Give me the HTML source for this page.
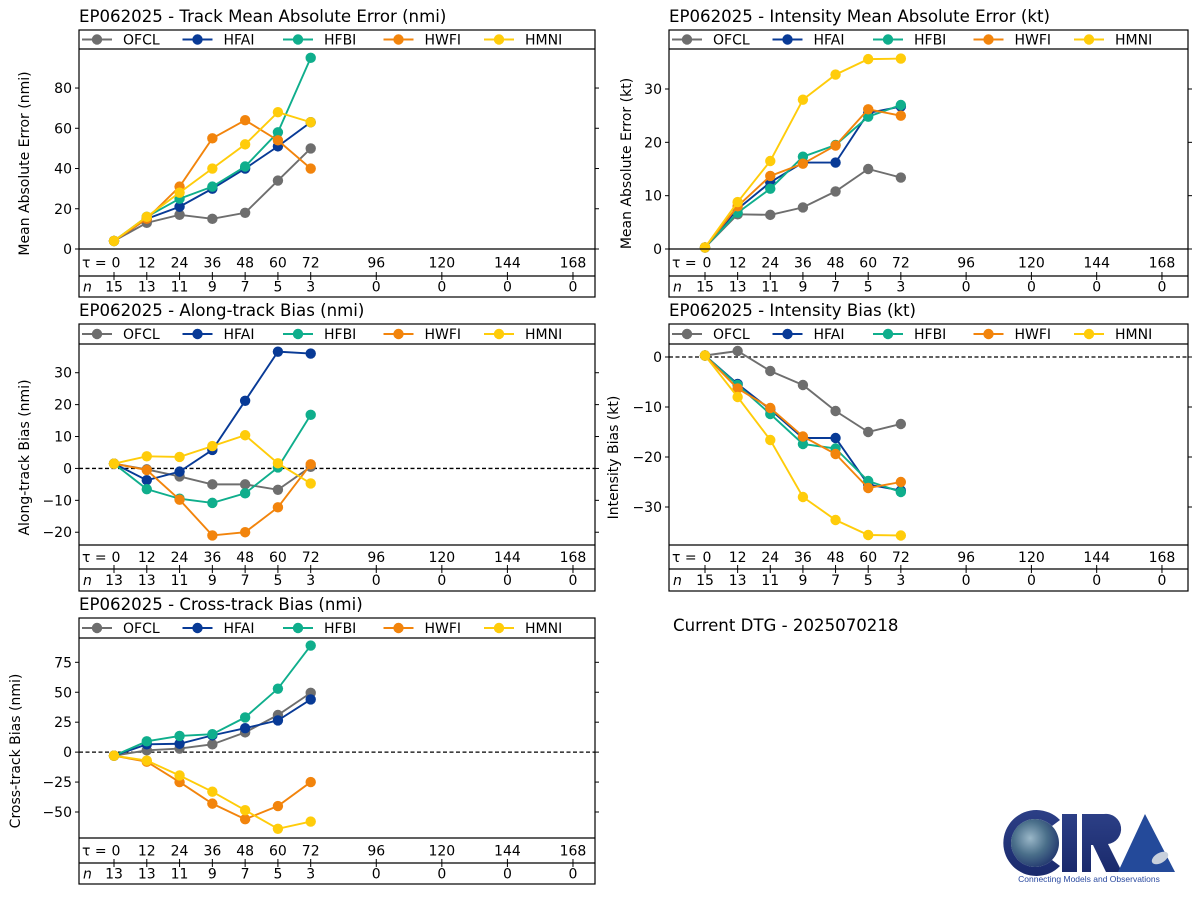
<!DOCTYPE html>
<html><head><meta charset="utf-8"><style>
html,body{margin:0;padding:0;background:#fff;}
svg{display:block;font-family:"DejaVu Sans","Liberation Sans",sans-serif;}
</style></head><body>
<svg id="chart" width="1200" height="900" viewBox="0 0 1200 900" xmlns="http://www.w3.org/2000/svg">
<rect x="0" y="0" width="1200" height="900" fill="#fff"/>
<text x="673" y="631" font-size="16.6" fill="#000">Current DTG - 2025070218</text>
<g>
  <defs>
    <radialGradient id="globe" cx="0.4" cy="0.4" r="0.7">
      <stop offset="0" stop-color="#9ab7c8"/><stop offset="0.5" stop-color="#4a6f8a"/><stop offset="1" stop-color="#1c2f6a"/>
    </radialGradient>
    <linearGradient id="letters" x1="0" y1="0" x2="0" y2="1">
      <stop offset="0" stop-color="#2c3f86"/><stop offset="1" stop-color="#1a2a6c"/>
    </linearGradient>
  </defs>
  <path d="M1060 820 A33 33 0 1 0 1060 866 L1052 860 A24 24 0 1 1 1052 826 Z" fill="url(#letters)"/>
  <circle cx="1035" cy="843" r="24" fill="url(#globe)"/>
  <rect x="1062" y="814" width="15" height="58" fill="url(#letters)"/>
  <path d="M1082 814 h22 a15 15 0 0 1 4 30 l14 28 h-16 l-13 -27 h-2 v27 h-9 Z" fill="url(#letters)"/>
  <path d="M1118 872 L1145 814 L1175 872 Z" fill="#244a9a"/>
  <ellipse cx="1160" cy="858" rx="9" ry="5" fill="#c8d0dc" transform="rotate(-30 1160 858)"/>
  <text x="1089" y="882" font-size="8.5" fill="#2a4aa0" text-anchor="middle" font-family="Liberation Sans, sans-serif">Connecting Models and Observations</text>
</g>
</svg>
<script>
const taus = [0, 12, 24, 36, 48, 60, 72];
const tauTicks = [0, 12, 24, 36, 48, 60, 72, 96, 120, 144, 168];
const models = ["OFCL", "HFAI", "HFBI", "HWFI", "HMNI"];
const colors = ["#6e6e6e", "#083a96", "#0fae8c", "#f2840c", "#ffcc0a"];

const trackN = [15, 13, 11, 9, 7, 5, 3, 0, 0, 0, 0];
const trackOFCL = [4, 13, 17, 15, 18, 34, 50];
const trackHFAI = [4, 15, 21, 30, 40, 51, 63];
const trackHFBI = [4, 16, 25, 31, 41, 58, 95];
const trackHWFI = [4, 15, 31, 55, 64, 54, 40];
const trackHMNI = [4, 16, 28, 40, 52, 68, 63];
const trackTicks = [0, 20, 40, 60, 80];

const intN = [15, 13, 11, 9, 7, 5, 3, 0, 0, 0, 0];
const intOFCL = [0.3, 6.5, 6.4, 7.8, 10.8, 15, 13.4];
const intHFAI = [0.3, 7.5, 12.5, 16.2, 16.2, 25.5, 26.7];
const intHFBI = [0.3, 6.8, 11.3, 17.3, 19.5, 24.8, 27];
const intHWFI = [0.3, 8, 13.7, 16, 19.4, 26.2, 25];
const intHMNI = [0.3, 8.8, 16.5, 28, 32.7, 35.6, 35.7];
const intTicks = [0, 10, 20, 30];

const alongN = [13, 13, 11, 9, 7, 5, 3, 0, 0, 0, 0];
const alongOFCL = [1.5, -0.3, -2.5, -5, -5, -6.7, 0.5];
const alongHFAI = [1.5, -3.7, -1, 5.8, 21.2, 36.6, 36];
const alongHFBI = [1.5, -6.5, -9.5, -10.8, -7.8, 0.3, 16.8];
const alongHWFI = [1.5, -0.5, -9.8, -21, -20, -12.2, 1.3];
const alongHMNI = [1.5, 3.8, 3.6, 7, 10.4, 1.6, -4.7];
const alongTicks = [-20, -10, 0, 10, 20, 30];

const ibiasN = [15, 13, 11, 9, 7, 5, 3, 0, 0, 0, 0];
const ibiasOFCL = [0.3, 1.2, -2.8, -5.6, -10.8, -15, -13.4];
const ibiasHFAI = [0.3, -5.4, -10.5, -16.2, -16.2, -25.5, -26.7];
const ibiasHFBI = [0.3, -5.6, -11.4, -17.4, -18.3, -24.8, -27];
const ibiasHWFI = [0.3, -6.3, -10.2, -15.9, -19.4, -26.2, -25];
const ibiasHMNI = [0.3, -8, -16.6, -28, -32.6, -35.6, -35.7];
const ibiasTicks = [-30, -20, -10, 0];

const crossN = [13, 13, 11, 9, 7, 5, 3, 0, 0, 0, 0];
const crossOFCL = [-3, 1.5, 3, 6.5, 16.5, 31, 49.5];
const crossHFAI = [-3, 6.5, 7, 14, 20, 26.5, 44];
const crossHFBI = [-3, 9, 13.5, 15, 29, 53, 89];
const crossHWFI = [-3, -8, -25, -43, -56, -45, -25];
const crossHMNI = [-3, -7, -19.5, -33, -48.5, -64, -58];
const crossTicks = [-50, -25, 0, 25, 50, 75];

const NS = "http://www.w3.org/2000/svg";
const svg = document.getElementById("chart");
function mk(tag, attrs, parent) {
  const e = document.createElementNS(NS, tag);
  for (const k in attrs) e.setAttribute(k, attrs[k]);
  (parent || svg).appendChild(e);
  return e;
}
const FS = 14;

const panels = [
  {id:"track", title:"EP062025 - Track Mean Absolute Error (nmi)", ylabel:"Mean Absolute Error (nmi)",
   L:79, R:595, x0:114, top:30, leg:49, bot:249, tb:276, nb:297, vMin:0, vMax:99.4, ticks:trackTicks, zero:false,
   series:[trackOFCL,trackHFAI,trackHFBI,trackHWFI,trackHMNI], n:trackN, ylx:25},
  {id:"intensity", title:"EP062025 - Intensity Mean Absolute Error (kt)", ylabel:"Mean Absolute Error (kt)",
   L:669, R:1188, x0:705, top:30, leg:49, bot:249, tb:276, nb:297, vMin:0, vMax:37.5, ticks:intTicks, zero:false,
   series:[intOFCL,intHFAI,intHFBI,intHWFI,intHMNI], n:intN, ylx:627},
  {id:"along", title:"EP062025 - Along-track Bias (nmi)", ylabel:"Along-track Bias (nmi)",
   L:79, R:595, x0:114, top:324, leg:344, bot:545, tb:569, nb:591, vMin:-24, vMax:39, ticks:alongTicks, zero:true,
   series:[alongOFCL,alongHFAI,alongHFBI,alongHWFI,alongHMNI], n:alongN, ylx:25},
  {id:"ibias", title:"EP062025 - Intensity Bias (kt)", ylabel:"Intensity Bias (kt)",
   L:669, R:1188, x0:705, top:324, leg:344, bot:545, tb:569, nb:591, vMin:-37.6, vMax:2.6, ticks:ibiasTicks, zero:true,
   series:[ibiasOFCL,ibiasHFAI,ibiasHFBI,ibiasHWFI,ibiasHMNI], n:ibiasN, ylx:614},
  {id:"cross", title:"EP062025 - Cross-track Bias (nmi)", ylabel:"Cross-track Bias (nmi)",
   L:79, R:595, x0:114, top:618, leg:638, bot:838, tb:863, nb:884, vMin:-71.7, vMax:95.3, ticks:crossTicks, zero:true,
   series:[crossOFCL,crossHFAI,crossHFBI,crossHWFI,crossHMNI], n:crossN, ylx:16}
];

panels.forEach(p => {
  const g = mk("g", {});
  
  
  const pxh = (p.id === "track" || p.id === "along" || p.id === "cross") ? 2.732 : 2.72;
  const xs = t => p.x0 + t * pxh;
  const ys = v => p.bot - (v - p.vMin) / (p.vMax - p.vMin) * (p.bot - p.leg);

  const ti = mk("text", {x:p.L, y:p.top - 8, "font-size":16.6, fill:"#000"}, g);
  ti.textContent = p.title;
  
  

  const yl = mk("text", {x:p.ylx, y:(p.top + p.nb) / 2, "font-size":FS, "text-anchor":"middle", "dominant-baseline":"central", transform:`rotate(-90 ${p.ylx} ${(p.top + p.nb) / 2})`}, g);
  yl.textContent = p.ylabel;
  
  

  p.ticks.forEach(v => {
    const y = ys(v);
    mk("line", {x1:p.L - 4, x2:p.L, y1:y, y2:y, stroke:"#000", "stroke-width":1}, g);
    mk("line", {x1:p.R, x2:p.R + 4, y1:y, y2:y, stroke:"#000", "stroke-width":1}, g);
    const t = mk("text", {x:p.L - 7, y:y + 5, "font-size":FS, "text-anchor":"end"}, g);
    t.textContent = v < 0 ? "\u2212" + Math.abs(v) : String(v);
    
    
  });

  if (p.zero) {
    const z = mk("line", {x1:p.L, x2:p.R, y1:ys(0), y2:ys(0), stroke:"#000", "stroke-width":1.3, "stroke-dasharray":"4,2.5"}, g);
    
    
  }

  p.series.forEach((vals, i) => {
    const sg = mk("g", {}, g);
    
    
    const pts = vals.map((v, k) => xs(taus[k]) + "," + ys(v)).join(" ");
    mk("polyline", {points:pts, fill:"none", stroke:colors[i], "stroke-width":1.9}, sg);
    vals.forEach((v, k) => {
      const c = mk("circle", {cx:xs(taus[k]), cy:ys(v), r:5.2, fill:colors[i]}, sg);
      
      
    });
  });

  mk("rect", {x:p.L, y:p.top, width:p.R - p.L, height:p.nb - p.top, fill:"none", stroke:"#000", "stroke-width":1.2}, g);
  mk("line", {x1:p.L, x2:p.R, y1:p.leg, y2:p.leg, stroke:"#000", "stroke-width":1.2}, g);
  mk("line", {x1:p.L, x2:p.R, y1:p.bot, y2:p.bot, stroke:"#000", "stroke-width":1.2}, g);
  mk("line", {x1:p.L, x2:p.R, y1:p.tb, y2:p.tb, stroke:"#000", "stroke-width":1.2}, g);

  const lg = mk("g", {}, g);
  
  
  const ly = (p.top + p.leg) / 2;
  models.forEach((m, i) => {
    const lx = p.L + 3 + i * 100.5;
    const e = mk("g", {}, lg);
    
    
    mk("line", {x1:lx, x2:lx + 30, y1:ly, y2:ly, stroke:colors[i], "stroke-width":1.9}, e);
    mk("circle", {cx:lx + 15, cy:ly, r:5.2, fill:colors[i]}, e);
    const t = mk("text", {x:lx + 41, y:ly + 5, "font-size":FS}, e);
    t.textContent = m;
  });

  const tyt = (p.bot + p.tb) / 2 + 5, nyt = (p.tb + p.nb) / 2 + 5;
  const tl = mk("text", {x:p.L + 3, y:tyt, "font-size":FS}, g);
  tl.textContent = "\u03c4 =";
  
  
  const nl = mk("text", {x:p.L + 4, y:nyt, "font-size":FS, "font-style":"italic"}, g);
  nl.textContent = "n";
  
  
  tauTicks.forEach((t, k) => {
    const x = xs(t);
    mk("line", {x1:x, x2:x, y1:p.tb - 4, y2:p.tb + 4, stroke:"#000", "stroke-width":1}, g);
    const a = mk("text", {x:k === 0 ? x + 2 : x, y:tyt, "font-size":FS, "text-anchor":"middle"}, g);
    a.textContent = String(t);
    
    
    const b = mk("text", {x:x, y:nyt, "font-size":FS, "text-anchor":"middle"}, g);
    b.textContent = String(p.n[k]);
    
    
  });
});
</script>
</body></html>
